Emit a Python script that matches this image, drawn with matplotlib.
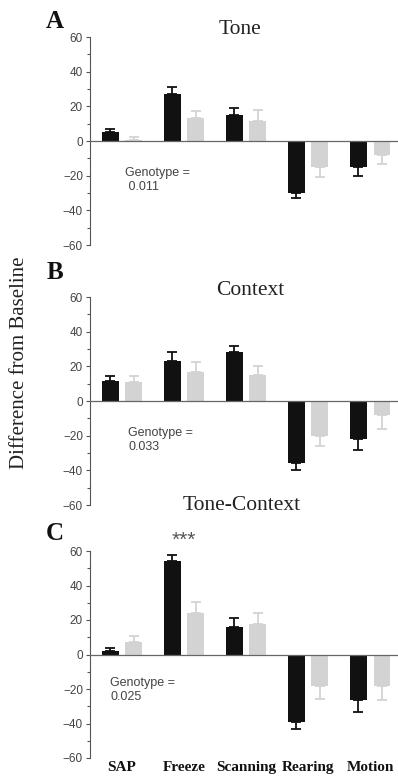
import numpy as np
import matplotlib
matplotlib.use("Agg")
import matplotlib.pyplot as plt
from matplotlib.ticker import MultipleLocator

# behaviour categories
categories = ["SAP", "Freeze", "Scanning", "Rearing", "Motion"]

# Panel A - Tone
tone_black = [5, 27, 15, -30, -15]
tone_black_err = [2, 4, 4, 3, 5]
tone_gray = [0.5, 13.5, 11.7, -15, -8]
tone_gray_err = [2, 4, 6, 6, 5]

# Panel B - Context
ctx_black = [11.5, 23, 28, -36, -22]
ctx_black_err = [3, 5, 4, 4, 6]
ctx_gray = [11, 16.5, 15, -20, -8]
ctx_gray_err = [3.6, 6, 5, 6, 8]

# Panel C - Tone-Context
tc_black = [2, 54, 16, -39, -26.6]
tc_black_err = [1.5, 3.5, 5, 4, 7]
tc_gray = [7.3, 24, 17.5, -18, -18]
tc_gray_err = [3.3, 6.5, 6.7, 8, 8.5]

panel_titles = ["Tone", "Context", "Tone-Context"]
panel_letters = ["A", "B", "C"]
genotype_text = ["Genotype =\n 0.011", "Genotype =\n0.033", "Genotype =\n0.025"]

W, H = 398, 781
fig = plt.figure(figsize=(W / 100, H / 100), dpi=100)

SERIF = "Liberation Serif"
SANS = "Liberation Sans"
BLACK = "#111111"
GRAY = "#d3d3d3"
TXT = "#444444"

def px(x, y):
    return x / W, 1 - y / H

# axes rects: (top_px, bottom_px)
rects = [(37, 245), (297, 505), (551, 758)]
title_y = [30, 290, 505]
title_x = [240, 250, 242]
letter_y = [22, 273, 533]
geno_pos = [(0.05, -15), (0.1, -15), (-0.19, -13.3)]

data = [
    (tone_black, tone_black_err, tone_gray, tone_gray_err),
    (ctx_black, ctx_black_err, ctx_gray, ctx_gray_err),
    (tc_black, tc_black_err, tc_gray, tc_gray_err),
]

x = np.arange(len(categories))
off = 0.19
bw = 0.27

def one_sided(vals, errs):
    vals = np.array(vals)
    errs = np.array(errs)
    lo = np.where(vals < 0, errs, 0)
    hi = np.where(vals >= 0, errs, 0)
    return [lo, hi]

axes = []
for i, (top, bot) in enumerate(rects):
    ax = fig.add_axes([90 / W, 1 - bot / H, 1 - 90 / W, (bot - top) / H])
    axes.append(ax)
    bk, bke, gy, gye = data[i]
    ax.bar(x - off, bk, bw, color=BLACK, zorder=3,
           yerr=one_sided(bk, bke), error_kw=dict(ecolor=BLACK, capsize=3.5, elinewidth=1.3, capthick=1.3))
    ax.bar(x + off, gy, bw, color=GRAY, zorder=3,
           yerr=one_sided(gy, gye), error_kw=dict(ecolor=GRAY, capsize=3.5, elinewidth=1.3, capthick=1.3))
    ax.axhline(0, color="#666666", lw=0.9, zorder=4)
    ax.set_xlim(-0.516, 4.45)
    ax.set_ylim(-60, 60)
    ax.set_yticks([-60, -40, -20, 0, 20, 40, 60])
    ax.yaxis.set_minor_locator(MultipleLocator(10))
    ax.tick_params(axis="y", which="major", length=3, width=0.8, color="#555555",
                   labelsize=8.5, labelcolor=TXT, pad=2)
    ax.tick_params(axis="y", which="minor", length=2, width=0.8, color="#555555")
    for lab in ax.get_yticklabels():
        lab.set_family(SANS)
    ax.set_xticks([])
    for s in ["top", "right", "bottom"]:
        ax.spines[s].set_visible(False)
    ax.spines["left"].set_color("#555555")
    ax.spines["left"].set_linewidth(0.8)
    ax.patch.set_alpha(0)
    gx, gyv = geno_pos[i]
    ax.text(gx, gyv, genotype_text[i], ha="left", va="top", fontsize=9,
            family=SANS, color=TXT, linespacing=1.2)
    fig.text(*px(title_x[i], title_y[i]), panel_titles[i], ha="center", va="center",
             fontsize=15.5, family=SERIF, color="#222222")
    fig.text(*px(55, letter_y[i]), panel_letters[i], ha="center", va="center",
             fontsize=18, family=SERIF, weight="bold", color="#111111")

# significance marker
axes[2].text(1, 66, "***", ha="center", va="center", fontsize=15, family=SANS,
             color="#555555", clip_on=False)

# category labels below last panel
for xi, c in zip(x, categories):
    axes[2].text(xi, -62, c, ha="center", va="top", fontsize=11, family=SERIF,
                 weight="bold", color="#111111", clip_on=False)

fig.text(*px(20, 363), "Difference from Baseline", rotation=90, ha="center", va="center",
         fontsize=15, family=SERIF, color="#222222")

fig.savefig("out.png", dpi=100)
